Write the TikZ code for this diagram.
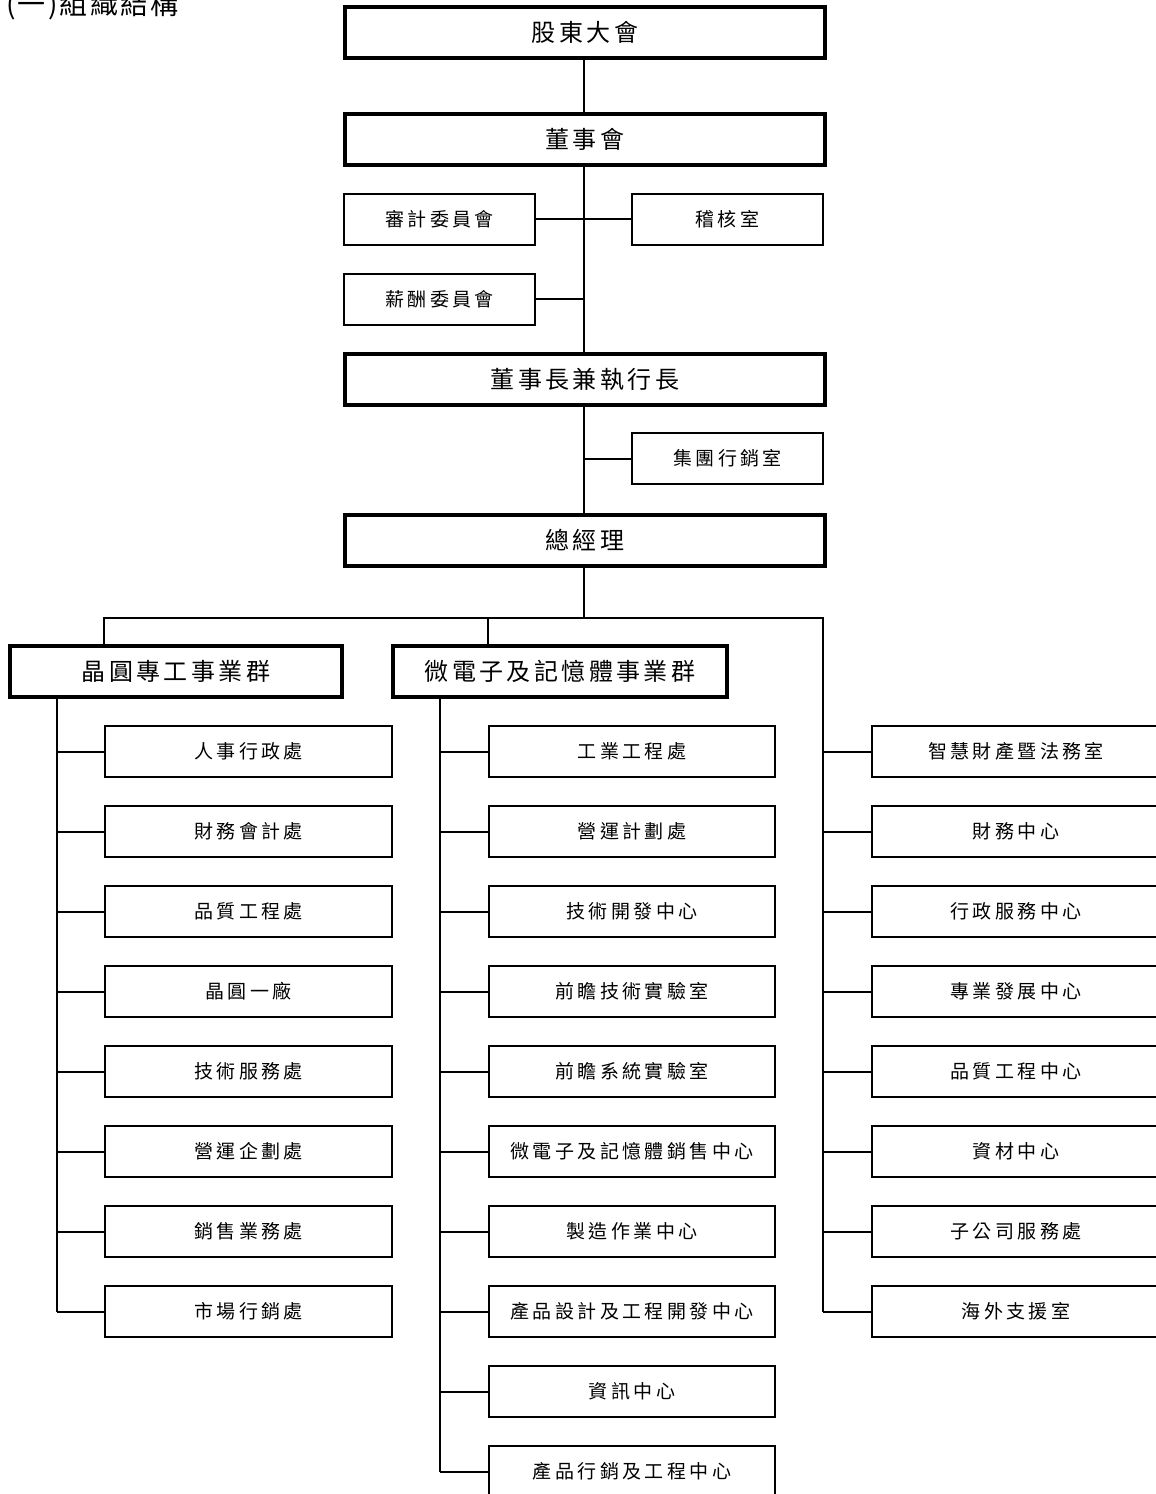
\documentclass[tikz,border=0pt]{standalone}
\usepackage{fontspec}
\newfontfamily\cjkbig[LetterSpace=14]{Noto Sans CJK TC}
\newfontfamily\cjksmall[LetterSpace=18]{Noto Sans CJK TC}
\newfontfamily\cjktitle[LetterSpace=8]{Noto Sans CJK TC}
\begin{document}
\begin{tikzpicture}[x=1pt,y=-1pt,
  bigbox/.style={draw, line width=4pt, inner sep=0pt, minimum height=51pt, font=\cjkbig\fontsize{24}{27}\selectfont},
  smallbox/.style={draw, line width=2pt, inner sep=0pt, minimum height=51pt, font=\cjksmall\fontsize{19}{22}\selectfont},
  link/.style={line width=2pt}]
\useasboundingbox (0,0) rectangle (1156,1494);
% title
\node[anchor=base west, inner sep=0pt, font=\cjktitle\fontsize{28}{30}\selectfont] (title) at (6,14) {(一)組織結構};
% top chain
\node[bigbox, minimum width=480pt] (sh) at (585,32.5) {股東大會};
\node[bigbox, minimum width=480pt] (board) at (585,139.5) {董事會};
\node[smallbox, minimum width=191pt] (audit) at (439.5,219) {審計委員會};
\node[smallbox, minimum width=191pt] (check) at (727.5,219) {稽核室};
\node[smallbox, minimum width=191pt] (pay) at (439.5,299) {薪酬委員會};
\node[bigbox, minimum width=480pt] (chair) at (585,379.5) {董事長兼執行長};
\node[smallbox, minimum width=191pt] (mkt) at (727.5,458.5) {集團行銷室};
\node[bigbox, minimum width=480pt] (gm) at (585,540) {總經理};
% groups
\node[bigbox, minimum width=332pt] (g1) at (176,671) {晶圓專工事業群};
\node[bigbox, minimum width=334pt] (g2) at (560,671) {微電子及記憶體事業群};
% left children
\foreach \i/\t in {0/人事行政處,1/財務會計處,2/品質工程處,3/晶圓一廠,4/技術服務處,5/營運企劃處,6/銷售業務處,7/市場行銷處}
  \node[smallbox, minimum width=287pt] (L\i) at (248.5,751.5+80*\i) {\t};
% middle children
\foreach \i/\t in {0/工業工程處,1/營運計劃處,2/技術開發中心,3/前瞻技術實驗室,4/前瞻系統實驗室,5/微電子及記憶體銷售中心,6/製造作業中心,7/產品設計及工程開發中心,8/資訊中心,9/產品行銷及工程中心}
  \node[smallbox, minimum width=286pt] (M\i) at (632,751.5+80*\i) {\t};
% right children
\foreach \i/\t in {0/智慧財產暨法務室,1/財務中心,2/行政服務中心,3/專業發展中心,4/品質工程中心,5/資材中心,6/子公司服務處,7/海外支援室}
  \node[smallbox, minimum width=288pt] (R\i) at (1016,751.5+80*\i) {\t};
% coordinates
\coordinate (sp) at (584,0);
\coordinate (busM) at (584,618);
\coordinate (busL) at (104,618);
\coordinate (busC) at (488,618);
\coordinate (busR) at (823,618);
\coordinate (spL) at (57,0);
\coordinate (spM) at (440,0);
% connectors top
\draw[link] (sh.south -| sp) -- (board.north -| sp);
\draw[link] (board.south -| sp) -- (chair.north -| sp);
\draw[link] (chair.south -| sp) -- (gm.north -| sp);
\draw[link] (audit.east) -- (check.west);
\draw[link] (pay.east) -- (pay.east -| sp);
\draw[link] (mkt.west) -- (mkt.west -| sp);
% bus
\draw[link] (gm.south -| sp) -- (busM);
\draw[link] (busL |- g1.north) -- (busL) -- (busR) -- (busR |- R7.west);
\draw[link] (busC) -- (busC |- g2.north);
% spines
\draw[link] (spL |- g1.south) -- (spL |- L7.west);
\draw[link] (spM |- g2.south) -- (spM |- M9.west);
\foreach \i in {0,...,7} \draw[link] (spL |- L\i.west) -- (L\i.west);
\foreach \i in {0,...,9} \draw[link] (spM |- M\i.west) -- (M\i.west);
\foreach \i in {0,...,7} \draw[link] (busR |- R\i.west) -- (R\i.west);
\end{tikzpicture}
\end{document}
